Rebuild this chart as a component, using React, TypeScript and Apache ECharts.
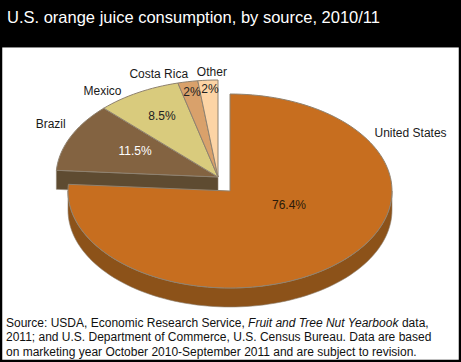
import React, { useEffect, useRef } from 'react';
import * as echarts from 'echarts';

// ---- data ----
const categories = ['United States', 'Brazil', 'Mexico', 'Costa Rica', 'Other'];
const shares = [76.4, 11.5, 8.5, 2, 2];
const shareLabels = ['76.4%', '11.5%', '8.5%', '2%', '2%'];
const titleText = 'U.S. orange juice consumption, by source, 2010/11';
const sourceText =
  'Source: USDA, Economic Research Service, {i|Fruit and Tree Nut Yearbook} data,\n' +
  '2011; and U.S. Department of Commerce, U.S. Census Bureau. Data are based\n' +
  'on marketing year October 2010-September 2011 and are subject to revision.';

// ---- layout / style ----
const W = 461;
const H = 362;
const FONT = '"Liberation Sans", Arial, Helvetica, sans-serif';
const PIE = { cx: 218, cy: 177, rx: 162, ry: 97, depth: 19 };
const explode: ({ dx: number; dy: number } | null)[] = [{ dx: 12, dy: 14 }, null, null, null, null];
const topColors = ['#C76E1F', '#836341', '#D9CB7D', '#D9A16B', '#FCD4A5'];
const sideColors = ['#8C5219', '#5E4B31', '#A89A55', '#A87A4E', '#C9A67D'];
const innerLabelFrac = [
  [0.534, 0.197],
  [0.563, 0.645],
  [0.7, 0.72],
  [0.86, 0.89],
  [0.79, 0.91],
];
const innerLabelColors = ['#2a1a0a', '#ffffff', '#222222', '#222222', '#222222'];
const outerLabelNudge = [
  [70, -129],
  [-20, -13],
  [-35.5, -1.6],
  [-29, -8],
  [4, -8],
];

const rad = (d: number) => (d * Math.PI) / 180;
const pt = (cx: number, cy: number, deg: number, r = 1): number[] => [
  cx + PIE.rx * r * Math.sin(rad(deg)),
  cy - PIE.ry * r * Math.cos(rad(deg)),
];
const arc = (cx: number, cy: number, a: number, b: number): number[][] => {
  const n = Math.max(2, Math.ceil((b - a) / 2));
  const out: number[][] = [];
  for (let k = 0; k <= n; k++) out.push(pt(cx, cy, a + ((b - a) * k) / n));
  return out;
};

function textEl(text: string, x: number, y: number, fill: string, z2: number, size = 12) {
  return {
    type: 'text',
    z2,
    style: {
      text,
      x,
      y,
      fill,
      fontSize: size,
      fontFamily: FONT,
      align: 'center',
      verticalAlign: 'middle',
      textAlign: 'center',
      textVerticalAlign: 'middle',
    },
  };
}

export default function App() {
  const ref = useRef<HTMLDivElement>(null);
  useEffect(() => {
    document.body.style.margin = '0';
    if (!ref.current) return;
    const chart = echarts.init(ref.current, null, { renderer: 'svg' });
    const total = shares.reduce((a, b) => a + b, 0);
    const n = shares.length;

    const renderItem = (params: any, api: any) => {
      const i = params.dataIndex;
      let start = 0;
      for (let j = 0; j < i; j++) start += (shares[j] / total) * 360;
      const end = start + (api.value(0) / total) * 360;
      const ex = explode[i];
      const isEx = !!ex;
      const cx = PIE.cx + (ex ? ex.dx : 0);
      const cy = PIE.cy + (ex ? ex.dy : 0);
      const d = PIE.depth;
      const zb = isEx ? 10 : 0;
      const children: any[] = [];

      // curved outer side (front half: 90..270 deg)
      const s = Math.max(start, 90);
      const e = Math.min(end, 270);
      if (e > s) {
        const top = arc(cx, cy, s, e);
        const bot = top.map((p) => [p[0], p[1] + d]).reverse();
        children.push({
          type: 'polygon',
          z2: zb + 1,
          shape: { points: [...top, ...bot] },
          style: { fill: sideColors[i], stroke: '#8f8270', lineWidth: 0.6 },
        });
      }
      // flat cut faces next to an exploded slice
      const prevEx = !!explode[(i - 1 + n) % n];
      const nextEx = !!explode[(i + 1) % n];
      const face = (ang: number, normal: number) => {
        if (Math.cos(rad(normal)) >= -1e-6) return;
        const p = pt(cx, cy, ang);
        children.push({
          type: 'polygon',
          z2: zb + 1,
          shape: { points: [[cx, cy], p, [p[0], p[1] + d], [cx, cy + d]] },
          style: { fill: sideColors[i], stroke: '#8f8270', lineWidth: 0.6 },
        });
      };
      if (!isEx && prevEx) face(start, start - 90);
      if (!isEx && nextEx) face(end, end + 90);

      // top face
      children.push({
        type: 'polygon',
        z2: zb + 2,
        shape: { points: [[cx, cy], ...arc(cx, cy, start, end)] },
        style: { fill: topColors[i], stroke: '#8f8270', lineWidth: 1, lineJoin: 'round' },
      });

      // labels
      const mid = (start + end) / 2;
      const fr = innerLabelFrac[i];
      const ix = cx + PIE.rx * fr[0] * Math.sin(rad(mid));
      const iy = cy - PIE.ry * fr[1] * Math.cos(rad(mid));
      children.push(textEl(shareLabels[i], ix, iy, innerLabelColors[i], 50));
      const mp = pt(cx, cy, mid);
      const nd = outerLabelNudge[i];
      children.push(textEl(categories[i], mp[0] + nd[0], mp[1] + nd[1], '#1a1a1a', 50));

      return { type: 'group', children };
    };

    chart.setOption({
      animation: false,
      backgroundColor: '#ffffff',
      graphic: [
        { type: 'rect', z: 0, shape: { x: 0, y: 0, width: W, height: 47 }, style: { fill: '#000' } },
        { type: 'line', z: 1, shape: { x1: 0, y1: 47.5, x2: W, y2: 47.5 }, style: { stroke: '#8a8a8a', lineWidth: 1 } },
        {
          type: 'rect',
          z: 100,
          shape: { x: 1, y: 1, width: W - 2, height: H - 2 },
          style: { fill: 'none', stroke: '#000', lineWidth: 2.5 },
        },
        {
          type: 'text',
          z: 101,
          style: {
            text: titleText,
            x: 7,
            y: 17,
            fill: '#ffffff',
            fontSize: 16.5,
            fontFamily: FONT,
            verticalAlign: 'middle',
            textVerticalAlign: 'middle',
          },
        },
        {
          type: 'text',
          z: 101,
          style: {
            text: sourceText,
            x: 6,
            y: 315.5,
            fill: '#111111',
            fontSize: 12,
            fontFamily: FONT,
            lineHeight: 14.4,
            rich: {
              i: { fontStyle: 'italic', fontSize: 12, fontFamily: FONT, lineHeight: 14.4, fill: '#111111' },
            },
          },
        },
      ],
      series: [
        {
          type: 'custom',
          coordinateSystem: 'none',
          silent: true,
          renderItem,
          data: shares.map((v, k) => ({ name: categories[k], value: [v] })),
        },
      ],
    });
    return () => chart.dispose();
  }, []);
  return <div ref={ref} style={{ position: 'absolute', left: 0, top: 0, width: W, height: H }} />;
}
